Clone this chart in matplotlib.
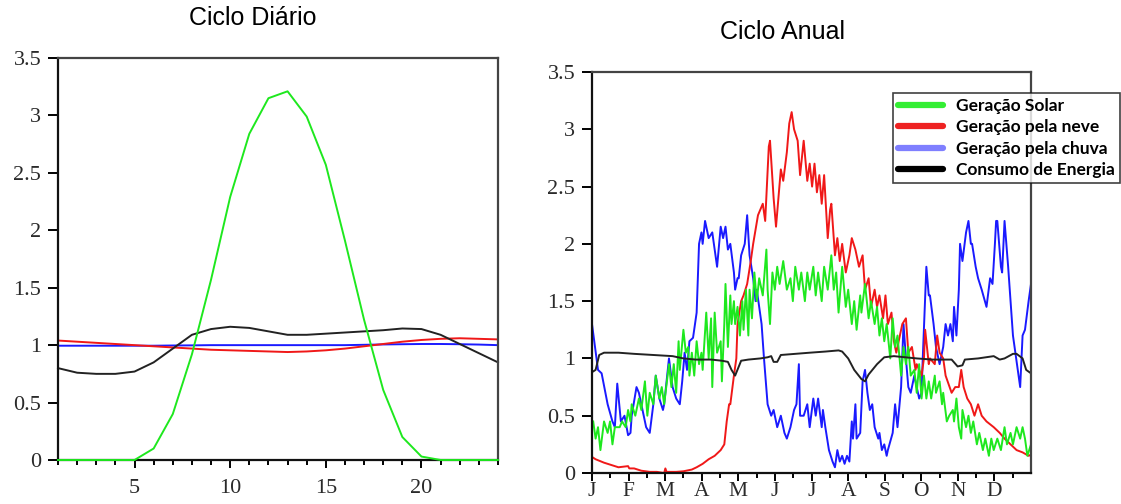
import numpy as np
import matplotlib
matplotlib.use('Agg')
import matplotlib.pyplot as plt
from matplotlib.ticker import FixedLocator, NullFormatter
from matplotlib.lines import Line2D

# ---------------- Ciclo Diário (hora 1..24) ----------------
horas = list(range(1, 25))
diario_solar = [0, 0, 0, 0, 0, 0.1, 0.4, 0.92, 1.57, 2.29, 2.84, 3.15, 3.21, 2.99, 2.57,
                1.91, 1.22, 0.61, 0.2, 0.03, 0, 0, 0, 0]
diario_neve = [1.04, 1.03, 1.02, 1.01, 1.0, 0.99, 0.98, 0.97, 0.96, 0.955, 0.95, 0.945,
               0.94, 0.945, 0.955, 0.97, 0.99, 1.01, 1.03, 1.045, 1.055, 1.06, 1.055, 1.05]
diario_chuva = [0.995, 0.995, 0.995, 0.995, 0.995, 0.995, 0.997, 0.998, 1.0, 1.0, 1.0, 1.0,
                1.0, 1.0, 1.0, 1.0, 1.003, 1.006, 1.008, 1.01, 1.01, 1.008, 1.005, 1.0]
diario_consumo = [0.8, 0.76, 0.75, 0.75, 0.77, 0.85, 0.97, 1.09, 1.14, 1.16, 1.15, 1.12,
                  1.09, 1.09, 1.10, 1.11, 1.12, 1.13, 1.145, 1.14, 1.09, 1.01, 0.93, 0.85]

# ---------------- Ciclo Anual (dia do ano) ----------------
chuva_dias = [0, 5, 8, 13, 17, 19, 21, 24, 27, 30, 32,
              33, 37, 39, 45, 48, 51, 53, 56, 59, 60,
              64, 67, 70, 73, 75, 77, 79, 81, 84, 87, 89, 91, 92,
              94, 97, 100, 102, 104, 107, 109, 111, 113, 115, 118, 119, 121, 122,
              124, 127, 129, 131, 134, 136, 137, 141, 143, 146, 149, 151, 153,
              154, 157, 160, 162, 165, 168, 170, 172, 173, 176, 179, 181, 184,
              186, 188, 191, 192, 194, 197, 200, 202, 204, 206, 208, 210, 212, 214,
              216, 217, 219, 220, 223, 225, 227, 229, 231, 233, 235, 238, 239, 241, 243, 245,
              246, 250, 252, 254, 257, 259, 261, 263, 265, 268, 272, 274, 275,
              278, 280, 281, 284, 286, 289, 292, 294, 296, 298, 300, 301, 303, 305,
              306, 308, 311, 313, 315, 316, 319, 321, 324, 328, 331, 333, 335, 336,
              337, 340, 341, 343, 346, 350, 354, 356, 358, 360, 363, 365]
chuva_vals = [1.3, 0.9, 0.87, 0.6, 0.45, 0.4, 0.78, 0.45, 0.5, 0.33, 0.35,
              0.5, 0.75, 0.7, 0.4, 0.35, 0.6, 0.85, 0.65, 0.55, 0.6,
              1.0, 0.75, 0.65, 0.6, 0.8, 1.05, 0.9, 1.15, 1.18, 1.4, 2.0, 2.1, 2.0,
              2.2, 2.05, 2.1, 1.95, 1.8, 2.15, 2.05, 2.15, 1.95, 2.0, 1.75, 1.6, 1.7, 1.7,
              1.9, 2.0, 2.25, 1.9, 1.7, 1.5, 1.6, 1.3, 1.0, 0.6, 0.5, 0.55, 0.45,
              0.4, 0.5, 0.35, 0.3, 0.4, 0.55, 0.6, 0.95, 0.5, 0.5, 0.6, 0.4, 0.65,
              0.5, 0.65, 0.4, 0.55, 0.4, 0.2, 0.1, 0.05, 0.2, 0.1, 0.15, 0.08, 0.15, 0.1,
              0.45, 0.3, 0.6, 0.3, 0.35, 0.8, 0.9, 0.7, 0.55, 0.6, 0.4, 0.3, 0.35, 0.2, 0.25, 0.15,
              0.2, 0.35, 0.6, 0.4, 0.75, 1.3, 1.0, 0.75, 0.7, 0.85, 0.65, 0.7, 1.0,
              1.8, 1.55, 1.55, 1.3, 1.1, 0.95, 1.1, 1.3, 1.2, 1.3, 1.15, 1.45, 1.2, 1.6,
              2.0, 1.85, 2.1, 2.2, 2.0, 2.0, 1.8, 1.7, 1.6, 1.45, 1.7, 1.65, 2.0, 2.2,
              2.2, 1.8, 1.75, 2.2, 1.8, 1.2, 0.9, 0.75, 1.2, 1.25, 1.5, 1.65]

solar_dias = [1, 3, 5, 7, 10, 13, 15, 17, 19, 23, 25, 28, 30,
              32, 33, 36, 39, 41, 44, 46, 48, 51, 53, 56, 58, 60,
              64, 66, 68, 70, 72, 73, 76, 78, 80, 81, 83, 85, 87, 89, 91, 92,
              95, 97, 99, 100, 102, 104, 107, 108, 110, 111, 113, 115, 116, 118, 119, 121, 123,
              125, 126, 128, 130, 131, 133, 135, 137, 139, 142, 145, 146, 148, 150, 152,
              154, 156, 159, 162, 165, 167, 169, 172, 174, 177, 179, 181, 184,
              186, 188, 191, 193, 196, 199, 201, 203, 205, 208, 211, 213,
              216, 218, 220, 223, 224, 227, 230, 232, 235, 237, 239, 241, 243,
              245, 248, 250, 252, 254, 257, 259, 261, 263, 265, 268, 270, 272, 274,
              276, 278, 280, 282, 285, 286, 289, 291, 292, 295, 297, 300, 301, 303, 305,
              307, 308, 311, 313, 315, 317, 320, 322, 325, 327, 330, 332, 334,
              337, 340, 343, 345, 348, 350, 353, 356, 358, 360, 362, 365]
solar_vals = [0.45, 0.3, 0.4, 0.2, 0.45, 0.35, 0.45, 0.25, 0.4, 0.4, 0.45, 0.4, 0.55,
              0.45, 0.6, 0.5, 0.65, 0.55, 0.8, 0.5, 0.7, 0.6, 0.85, 0.65, 0.75, 0.6,
              0.95, 0.75, 0.95, 0.7, 1.15, 0.9, 1.25, 1.05, 1.1, 0.85, 1.05, 0.85, 1.15, 0.95, 1.05, 0.9,
              1.4, 1.0, 1.35, 0.75, 1.4, 1.05, 1.15, 0.8, 1.3, 1.65, 1.1, 1.55, 1.3, 1.5, 1.3, 1.45, 1.2,
              1.5, 1.25, 1.6, 1.2, 1.6, 1.35, 1.75, 1.5, 1.7, 1.55, 1.95, 1.6, 1.3, 1.75, 1.6,
              1.8, 1.65, 1.85, 1.6, 1.7, 1.5, 1.8, 1.6, 1.75, 1.5, 1.75, 1.6, 1.8,
              1.55, 1.75, 1.5, 1.8, 1.6, 1.9, 1.6, 1.75, 1.4, 1.8, 1.45, 1.6,
              1.3, 1.5, 1.25, 1.55, 1.4, 1.65, 1.35, 1.5, 1.3, 1.45, 1.2, 1.35, 1.15,
              1.3, 1.0, 1.35, 1.1, 1.2, 0.85, 1.1, 0.95, 1.1, 0.85, 0.9, 0.7, 0.95, 0.65,
              0.85, 0.65, 0.8, 0.65, 0.85, 0.7, 0.8, 0.6, 0.7, 0.45, 0.5, 0.55, 0.45, 0.65, 0.4,
              0.3, 0.55, 0.4, 0.5, 0.35, 0.45, 0.25, 0.35, 0.2, 0.3, 0.15, 0.3, 0.2,
              0.3, 0.2, 0.4, 0.25, 0.35, 0.25, 0.4, 0.3, 0.4, 0.3, 0.15, 0.25]

neve_dias = [0, 3, 10, 16, 22, 30, 31, 35, 41, 48, 54, 60, 61, 62, 64, 70, 76, 83, 87, 92,
             97, 102, 107, 110, 112, 114, 115, 118, 120, 121, 124, 126, 129, 132, 134, 138,
             142, 144, 147, 148, 151, 153, 155, 157, 159, 162, 164, 166, 168, 171, 173, 176,
             179, 181, 183, 185, 187, 189, 191, 193, 196, 198, 199, 202, 204, 206, 208, 211,
             214, 216, 219, 222, 225, 227, 230, 232, 235, 237, 239, 242, 244, 246, 249, 251,
             253, 258, 261, 263, 266, 269, 270, 274, 276, 277, 280, 281, 285, 287, 289, 292,
             294, 299, 302, 305, 307, 309, 312, 315, 318, 321, 324, 328, 334, 339, 343, 348,
             353, 358, 363, 365]
neve_vals = [0.14, 0.12, 0.09, 0.07, 0.05, 0.06, 0.04, 0.04, 0.02, 0.01, 0.01, 0.0, 0.04, 0.01,
             0.01, 0.01, 0.015, 0.03, 0.05, 0.08, 0.12, 0.15, 0.2, 0.25, 0.45, 0.6, 0.6, 0.85,
             1.0, 1.3, 1.5, 1.55, 1.65, 1.85, 2.0, 2.25, 2.35, 2.2, 2.85, 2.9, 2.4, 2.15, 2.4,
             2.65, 2.55, 2.8, 3.05, 3.15, 3.0, 2.9, 2.6, 2.9, 2.55, 2.7, 2.5, 2.7, 2.45, 2.6,
             2.35, 2.6, 2.05, 2.3, 2.35, 1.9, 2.05, 1.85, 2.0, 1.75, 1.9, 2.05, 1.95, 1.8, 1.9,
             1.6, 1.7, 1.45, 1.6, 1.45, 1.55, 1.35, 1.55, 1.3, 1.4, 1.15, 1.05, 1.3, 1.35, 1.05,
             1.1, 0.9, 0.95, 0.85, 1.0, 1.25, 0.95, 1.0, 0.95, 1.2, 1.05, 1.0, 0.85, 0.7, 0.75,
             0.75, 0.9, 0.75, 0.65, 0.6, 0.5, 0.6, 0.5, 0.45, 0.4, 0.35, 0.3, 0.25, 0.2, 0.18,
             0.15, 0.16]

consumo_dias = [0, 3, 6, 10, 22, 35, 51, 67, 76, 86, 99, 108, 113, 116, 119, 124, 130, 140,
                146, 149, 151, 154, 157, 169, 181, 194, 205, 208, 213, 218, 224, 227, 230, 237,
                243, 251, 270, 283, 299, 304, 308, 310, 321, 334, 339, 343, 350, 353, 358, 361, 365]
consumo_vals = [0.88, 0.9, 1.03, 1.05, 1.05, 1.04, 1.03, 1.02, 1.0, 0.99, 0.99, 0.98, 0.97, 0.9,
                0.85, 0.98, 0.99, 1.0, 1.01, 1.02, 0.97, 0.97, 1.03, 1.04, 1.05, 1.06, 1.07, 1.06,
                1.0, 0.9, 0.82, 0.8, 0.86, 0.95, 1.01, 1.02, 1.0, 0.99, 0.99, 0.93, 0.94, 0.99,
                1.0, 1.02, 0.99, 1.0, 1.04, 1.04, 1.0, 0.9, 0.87]

meses = ['J', 'F', 'M', 'A', 'M', 'J', 'J', 'A', 'S', 'O', 'N', 'D']
y_labels = ['0', '0.5', '1', '1.5', '2', '2.5', '3', '3.5']
nomes = ['Geração Solar', 'Geração pela neve', 'Geração pela chuva', 'Consumo de Energia']

VERDE = '#1ee81e'
VERMELHO = '#f01818'
AZUL = '#1a1aff'
PRETO = '#222222'

fig = plt.figure(figsize=(11.21, 5.04), dpi=100)
ax1 = fig.add_axes([58 / 1121, 1 - 460 / 504, 440 / 1121, 402 / 504])
ax2 = fig.add_axes([592 / 1121, 1 - 473 / 504, 439 / 1121, 401 / 504])

serif = 'Liberation Serif'
fs_tick = 16


def estilo(ax):
    ax.set_ylim(0, 3.5)
    ax.set_yticks(np.arange(0, 3.51, 0.5))
    ax.set_yticklabels(y_labels, fontfamily=serif, fontsize=fs_tick, color='#2a2a2a')
    for s in ['left', 'bottom']:
        ax.spines[s].set_linewidth(1.6)
        ax.spines[s].set_color('#111111')
    for s in ['top', 'right']:
        ax.spines[s].set_linewidth(1.6)
        ax.spines[s].set_color('#444444')
    ax.tick_params(axis='y', direction='out', length=7, width=1.4, pad=5)
    ax.tick_params(axis='x', which='major', direction='out', length=5.8, width=1.4, pad=8)
    ax.tick_params(axis='x', which='minor', direction='out', length=3.6, width=1.4)


# ---- esquerda
ax1.plot(horas, diario_chuva, color=AZUL, lw=1.4, clip_on=False)
ax1.plot(horas, diario_neve, color=VERMELHO, lw=1.4, clip_on=False)
ax1.plot(horas, diario_consumo, color=PRETO, lw=1.4, clip_on=False)
ax1.plot(horas, diario_solar, color=VERDE, lw=1.4, clip_on=False, zorder=3)
ax1.set_xlim(1, 24)
estilo(ax1)
ax1.set_xticks([5, 10, 15, 20])
ax1.set_xticklabels(['5', '10', '15', '20'], fontfamily=serif, fontsize=fs_tick, color='#2a2a2a')
ax1.xaxis.set_minor_locator(FixedLocator(range(1, 25)))

# ---- direita
ax2.plot(chuva_dias, chuva_vals, color=AZUL, lw=1.4)
ax2.plot(neve_dias, neve_vals, color=VERMELHO, lw=1.4)
ax2.plot(solar_dias, solar_vals, color=VERDE, lw=1.4)
ax2.plot(consumo_dias, consumo_vals, color=PRETO, lw=1.4)
ax2.set_xlim(0, 365)
estilo(ax2)
ax2.tick_params(axis='x', which='major', pad=1)
inicio_mes = [i * 365 / 12 for i in range(12)]
ax2.set_xticks(inicio_mes)
ax2.set_xticklabels(meses, fontfamily=serif, fontsize=15.5, color='#2a2a2a')
ax2.xaxis.set_minor_locator(FixedLocator([m + 365 / 24 for m in inicio_mes]))
ax2.xaxis.set_minor_formatter(NullFormatter())

# legenda (fora do eixo, à direita)
cores_leg = ['#33ee33', '#ee2222', '#7f7fff', '#000000']
handles = [Line2D([], [], color=c, lw=4.5, solid_capstyle='round') for c in cores_leg]
leg = fig.legend(handles, nomes, loc='upper left', bbox_to_anchor=(893 / 1121, 1 - 93 / 504),
                 bbox_transform=fig.transFigure, frameon=True, fancybox=False,
                 prop={'family': 'Lato', 'weight': 'bold', 'size': 12.5},
                 handlelength=2.6, handletextpad=0.7, labelspacing=0.3,
                 borderpad=0.3, borderaxespad=0)
leg.get_frame().set_edgecolor('#111111')
leg.get_frame().set_linewidth(1.2)

fig.text(253 / 1121, 1 - 18 / 504, 'Ciclo Diário', ha='center', va='center',
         fontfamily='Liberation Sans', fontsize=18)
fig.text(782 / 1121, 1 - 32 / 504, 'Ciclo Anual', ha='center', va='center',
         fontfamily='Liberation Sans', fontsize=18)

fig.savefig('out.png', dpi=100)
